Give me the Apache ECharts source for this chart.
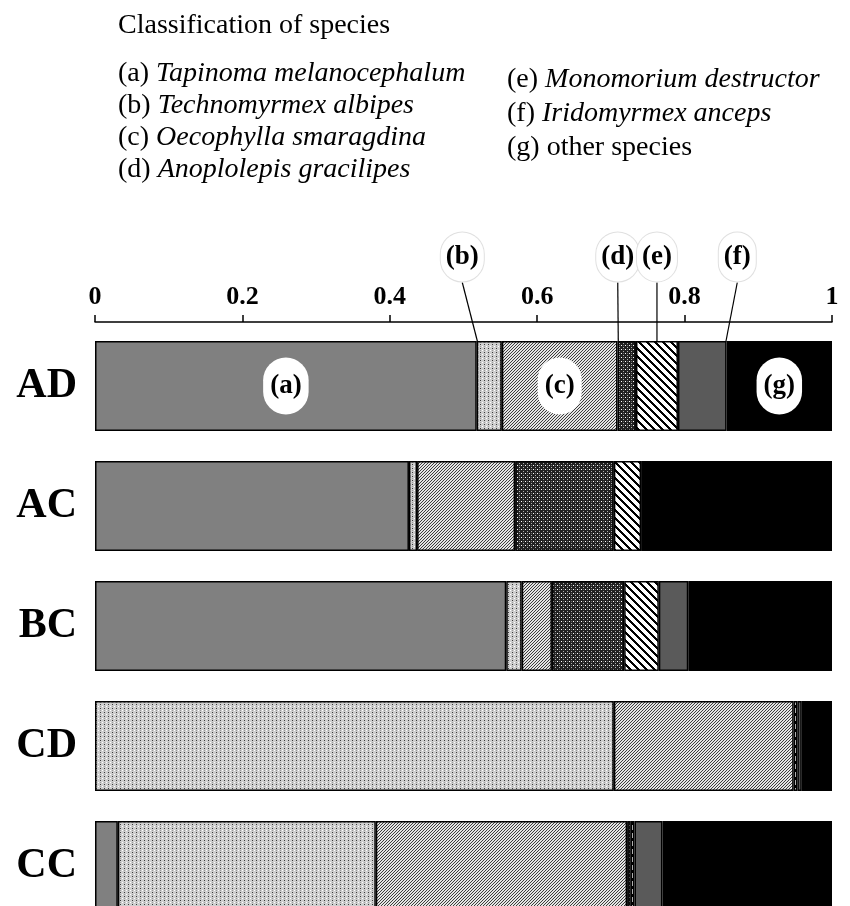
<!DOCTYPE html>
<html>
<head>
<meta charset="utf-8">
<script src="https://cdn.jsdelivr.net/npm/echarts@6/dist/echarts.min.js"></script>
<style>
  html, body { margin: 0; padding: 0; background: #fff; }
  #chart { width: 850px; height: 906px; }
</style>
</head>
<body>
<div id="chart"></div>
<script>
const categories = ["AD", "AC", "BC", "CD", "CC"];
const speciesKeys = ["a", "b", "c", "d", "e", "f", "g"];
const speciesNames = [
  "Tapinoma melanocephalum",
  "Technomyrmex albipes",
  "Oecophylla smaragdina",
  "Anoplolepis gracilipes",
  "Monomorium destructor",
  "Iridomyrmex anceps",
  "other species"
];

// proportions per site, left to right in each bar
const speciesA = [0.518, 0.426, 0.558, 0, 0.031];
const speciesB = [0.034, 0.011, 0.021, 0.704, 0.350];
const speciesC = [0.157, 0.133, 0.041, 0.244, 0.341];
const speciesD = [0.025, 0.134, 0.098, 0, 0.005];
const speciesE = [0.057, 0.037, 0.047, 0.005, 0.005];
const speciesF = [0.066, 0, 0.040, 0.006, 0.038];
const speciesG = [0.143, 0.259, 0.195, 0.041, 0.230];
const speciesValues = [speciesA, speciesB, speciesC, speciesD, speciesE, speciesF, speciesG];

const xTicks = [0, 0.2, 0.4, 0.6, 0.8, 1];

const SERIF = "'Liberation Serif', 'DejaVu Serif', serif";

function makeTile(size, bg, paint) {
  const canvas = document.createElement("canvas");
  canvas.width = size;
  canvas.height = size;
  const ctx = canvas.getContext("2d");
  ctx.fillStyle = bg;
  ctx.fillRect(0, 0, size, size);
  for (let y = 0; y < size; y++) {
    for (let x = 0; x < size; x++) {
      const c = paint(x, y);
      if (c) {
        ctx.fillStyle = c;
        ctx.fillRect(x, y, 1, 1);
      }
    }
  }
  return { image: canvas, repeat: "repeat" };
}

const fills = {
  a: "#808080",
  b: makeTile(4, "#cfcfcf", (x, y) => (x === 0 && y === 0 ? "#3a3a3a" : x === 2 && y === 2 ? "#ffffff" : x === 0 && y === 2 ? "#9a9a9a" : null)),
  c: makeTile(3, "#e4e4e4", (x, y) => ((x + y) % 3 === 2 ? "#3c3c3c" : null)),
  d: makeTile(4, "#222222", (x, y) => (x === 1 && y === 1 ? "#ffffff" : x === 3 && y === 3 ? "#b0b0b0" : x === 3 && y === 1 ? "#6a6a6a" : null)),
  e: makeTile(8, "#ffffff", (x, y) => (((x - y) % 8 + 8) % 8 < 3 ? "#000000" : null)),
  f: "#5a5a5a",
  g: "#000000"
};

// callout labels for the AD bar: horizontal shift of the label from its segment
const calloutShift = { b: -27, d: -9, e: 0, f: 35 };
const insideLabels = ["a", "c", "g"];

const labelBubble = {
  color: "#000",
  fontFamily: SERIF,
  fontWeight: "bold",
  fontSize: 27,
  backgroundColor: "#fff",
  borderRadius: 28,
  padding: [16, 7, 14, 7]
};

const series = speciesKeys.map((key, si) => {
  const data = speciesValues[si].map((v, i) => {
    const item = { value: v === 0 ? "-" : v };
    if (i === 0 && (insideLabels.includes(key) || key in calloutShift)) {
      item.label = Object.assign({ show: true, position: "inside", formatter: "(" + key + ")" }, labelBubble,
        key in calloutShift ? { borderColor: "#e0e0e0", borderWidth: 1, padding: [12, 5, 10, 5] } : {});
    }
    return item;
  });
  const s = {
    name: "(" + key + ") " + speciesNames[si],
    type: "bar",
    stack: "total",
    barWidth: 90,
    data,
    label: { show: false },
    itemStyle: { color: fills[key], borderColor: "#000", borderWidth: 1.5 },
    emphasis: { disabled: true }
  };
  if (key in calloutShift) {
    const shift = calloutShift[key];
    s.labelLine = { show: true, lineStyle: { color: "#000", width: 1.2 } };
    s.labelLayout = (p) => {
      if (p.dataIndex !== 0) return {};
      return {
        x: p.rect.x + p.rect.width / 2 + shift,
        y: p.rect.y - 84,
        align: "center",
        verticalAlign: "middle"
      };
    };
  }
  return s;
});

const legendLeft = [0, 1, 2, 3];
const legendRight = [4, 5, 6];
const legendTexts = [];
legendLeft.forEach((idx, row) => {
  legendTexts.push({ idx, x: 118, y: 74 + row * 32 });
});
legendRight.forEach((idx, row) => {
  legendTexts.push({ idx, x: 507, y: 80 + row * 34 });
});

const graphic = [
  {
    type: "text",
    left: 118,
    top: 12,
    style: { text: "Classification of species", font: "28px " + SERIF, fill: "#000" }
  }
].concat(legendTexts.map(({ idx, x, y }) => {
  const key = speciesKeys[idx];
  const italic = key !== "g";
  return {
    type: "text",
    x,
    y,
    style: {
      text: "{n|(" + key + ") }{" + (italic ? "i" : "n") + "|" + speciesNames[idx] + "}",
      verticalAlign: "middle",
      fill: "#000",
      rich: {
        n: { font: "28px " + SERIF, fill: "#000" },
        i: { font: "italic 28px " + SERIF, fill: "#000" }
      }
    }
  };
}));

const chart = echarts.init(document.getElementById("chart"), null, { renderer: "canvas" });
chart.setOption({
  animation: false,
  backgroundColor: "#fff",
  grid: { left: 95, right: 18, top: 326, height: 600, outerBoundsMode: "none" },
  xAxis: {
    type: "value",
    position: "top",
    offset: 4,
    min: 0,
    max: 1,
    interval: 0.2,
    axisLine: { show: true, lineStyle: { color: "#000", width: 1.5 } },
    axisTick: { show: true, inside: false, length: 7, lineStyle: { color: "#000", width: 1.5 } },
    splitLine: { show: false },
    axisLabel: {
      margin: 12,
      color: "#000",
      fontFamily: SERIF,
      fontWeight: "bold",
      fontSize: 26,
      formatter: (v) => (xTicks.includes(Math.round(v * 10) / 10) ? String(Math.round(v * 10) / 10) : "")
    }
  },
  yAxis: {
    type: "category",
    inverse: true,
    data: categories,
    axisLine: { show: false },
    axisTick: { show: false },
    axisLabel: {
      margin: 18,
      color: "#000",
      fontFamily: SERIF,
      fontWeight: "bold",
      fontSize: 42
    }
  },
  graphic,
  series
});
</script>
</body>
</html>
